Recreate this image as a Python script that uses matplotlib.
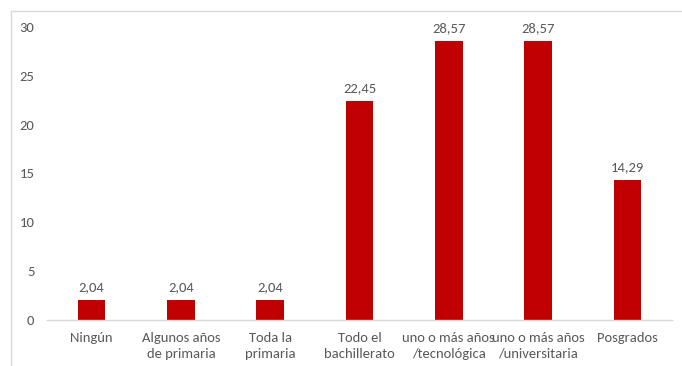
import matplotlib
matplotlib.use("Agg")
from matplotlib import pyplot as plt
from matplotlib.lines import Line2D

# Data
categories = ["Ningún", "Algunos años\nde primaria", "Toda la\nprimaria", "Todo el\nbachillerato",
              "uno o más años\n/tecnológica", "uno o más años\n/universitaria", "Posgrados"]
values = [2.04, 2.04, 2.04, 22.45, 28.57, 28.57, 14.29]
value_labels = ["2,04", "2,04", "2,04", "22,45", "28,57", "28,57", "14,29"]
y_ticks = [0, 5, 10, 15, 20, 25, 30]

text_color = "#595959"
bar_color = "#C00000"

plt.rcParams['font.family'] = ['Carlito', 'Open Sans', 'DejaVu Sans']

fig = plt.figure(figsize=(6.82, 3.66), dpi=100)
ax = fig.add_axes([47 / 682, 1 - 320 / 366, 625 / 682, (320 - 27) / 366])

x = list(range(len(categories)))
ax.bar(x, values, width=0.31, color=bar_color)

# Value labels above bars
for xi, v, lab in zip(x, values, value_labels):
    ax.annotate(lab, (xi, v), xytext=(0, 5), textcoords="offset points",
                ha="center", va="bottom", fontsize=10.5, color=text_color)

ax.set_xlim(-0.5, len(categories) - 0.5)
ax.set_ylim(0, 30)
ax.set_yticks(y_ticks)
ax.set_yticklabels([str(t) for t in y_ticks])
ax.set_xticks(x)
ax.set_xticklabels(categories, linespacing=1.3)

ax.tick_params(axis="both", length=0, labelsize=10.5, colors=text_color)
ax.tick_params(axis="y", pad=9)
ax.tick_params(axis="x", pad=9)

for side in ["top", "right", "left"]:
    ax.spines[side].set_visible(False)
ax.spines["bottom"].set_color("#D9D9D9")
ax.spines["bottom"].set_linewidth(1)

# Light gray chart-area border (left and top visible)
fig.add_artist(Line2D([10.5 / 682, 10.5 / 682], [0, 1 - 10.5 / 366],
                      transform=fig.transFigure, color="#D9D9D9", lw=1))
fig.add_artist(Line2D([10.5 / 682, 1], [1 - 10.5 / 366, 1 - 10.5 / 366],
                      transform=fig.transFigure, color="#D9D9D9", lw=1))

fig.savefig("out.png", dpi=100)
